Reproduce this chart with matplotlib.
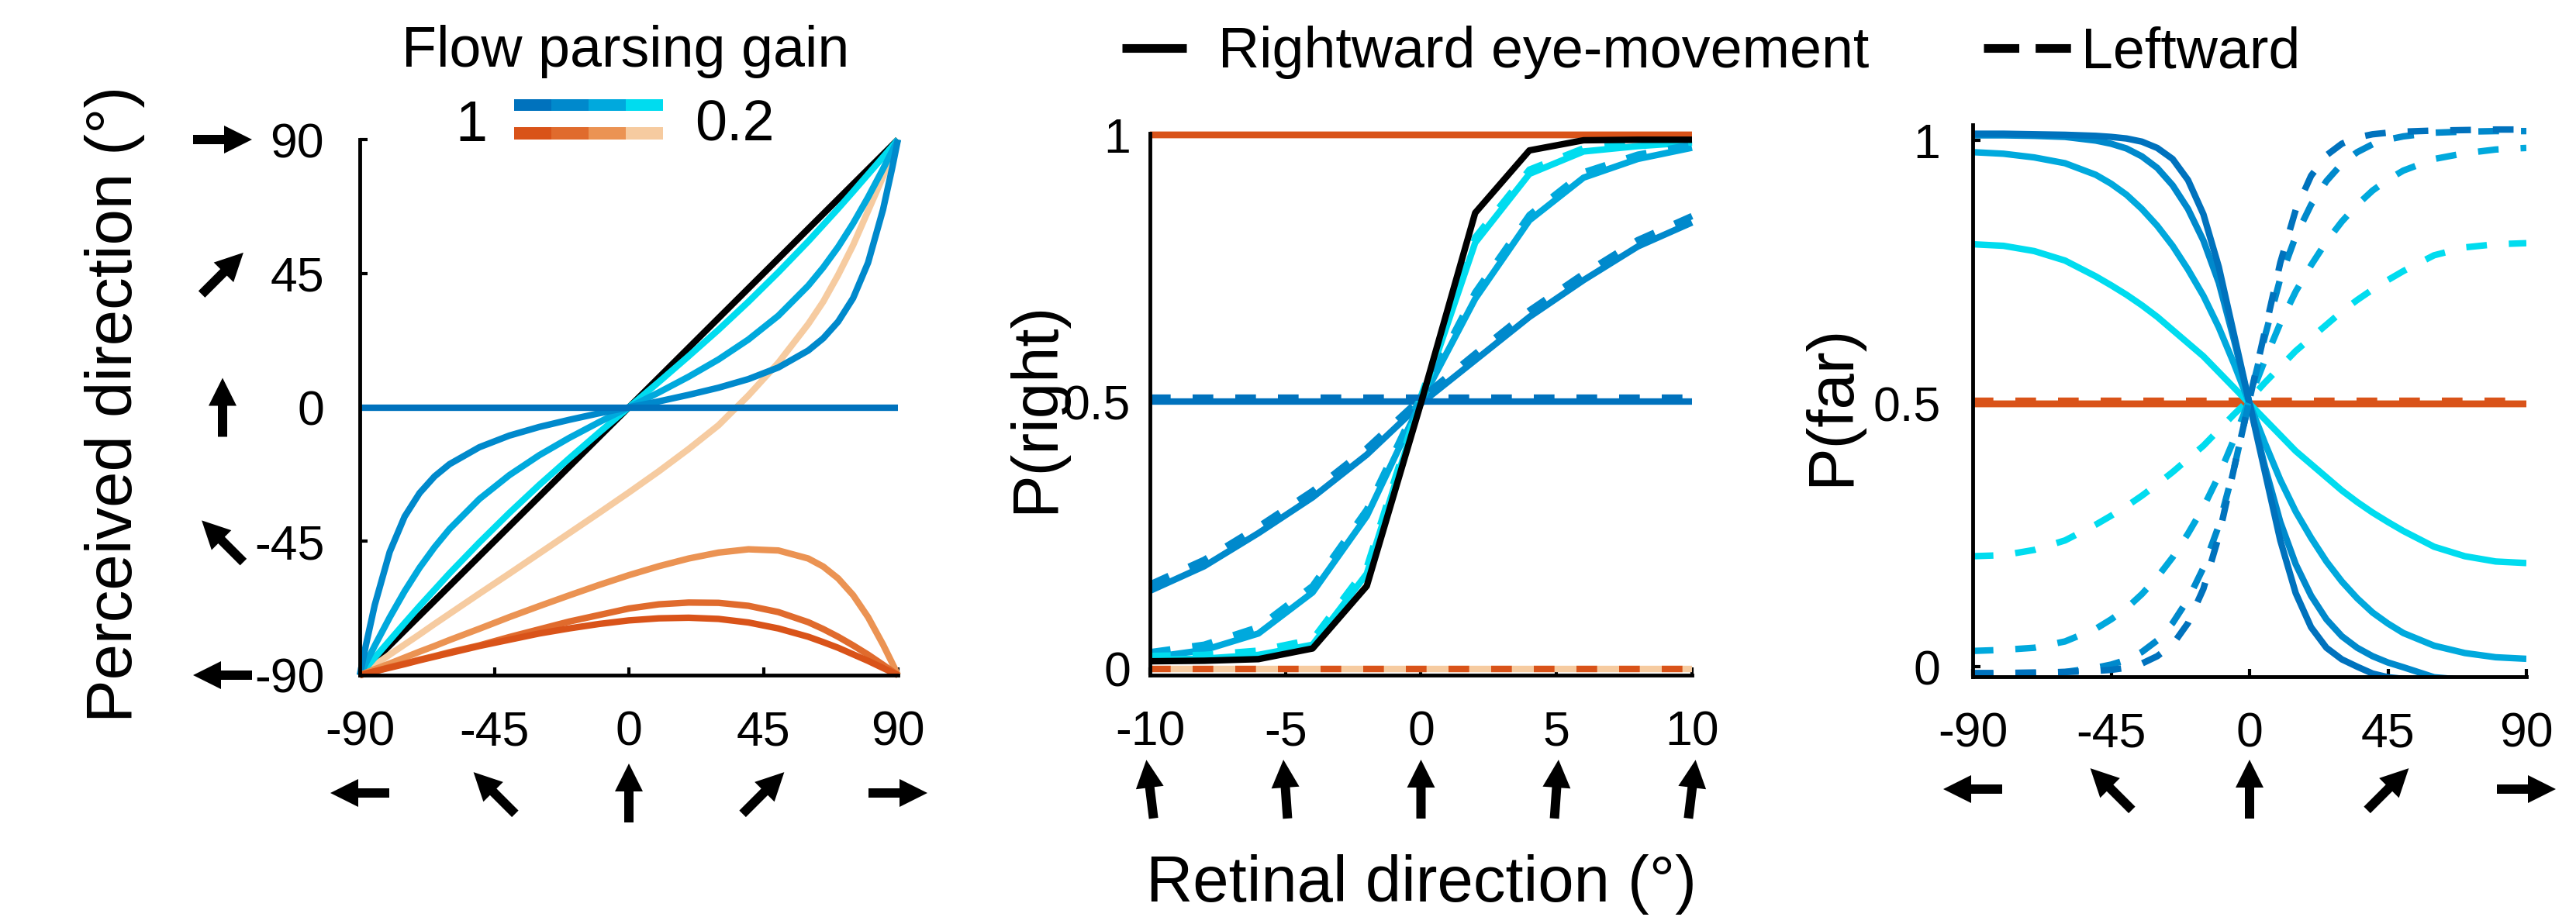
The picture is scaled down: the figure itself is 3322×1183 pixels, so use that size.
import numpy as np
import matplotlib
matplotlib.use('Agg')
import matplotlib.pyplot as plt
from matplotlib.patches import Polygon, Rectangle
from matplotlib.lines import Line2D
from matplotlib.transforms import IdentityTransform

plt.rcParams['font.family'] = ['Liberation Sans', 'DejaVu Sans']
plt.rcParams['axes.unicode_minus'] = False

W, H = 3323, 1183

# colours: gain 1 -> 0.2
blues = ['#0072BD', '#0089CC', '#00A9DD', '#00DCEF']
oranges = ['#D95319', '#E06B2D', '#EB9353', '#F6CBA0']

# ---- left panel: perceived vs retinal direction ----
dir_ticks = [-90, -45, 0, 45, 90]
dir_x = [-90, -88, -85, -80, -75, -70, -65, -60, -50, -40, -30, -20, -10, 0,
         10, 20, 30, 40, 50, 60, 65, 70, 75, 80, 85, 88, 90]
ideal_x = [-90, 90]
ideal_y = [-90, 90]
flat_x = [-90, 90]
flat_y = [0, 0]
blue2_y = [-90, -80.1, -66.4, -48.6, -36.7, -28.8, -23.2, -19.1, -13.4, -9.5, -6.6, -4.2, -2.0, 0,
           2.0, 4.2, 6.6, 9.5, 13.4, 19.1, 23.2, 28.8, 36.7, 48.6, 66.4, 80.1, 90]
blue3_y = [-90, -86.0, -80.1, -70.6, -61.8, -53.9, -47.0, -40.9, -30.8, -22.8, -16.1, -10.3, -5.0, 0,
           5.0, 10.3, 16.1, 22.8, 30.8, 40.9, 47.0, 53.9, 61.8, 70.6, 80.1, 86.0, 90]
blue4_y = [-90, -87.6, -84.1, -78.3, -72.5, -66.8, -61.3, -55.8, -45.4, -35.5, -26.1, -17.2, -8.5, 0,
           8.5, 17.2, 26.1, 35.5, 45.4, 55.8, 61.3, 66.8, 72.5, 78.3, 84.1, 87.6, 90]
peach_y = [-90, -88.6, -86.6, -83.1, -79.7, -76.3, -72.8, -69.4, -62.6, -55.9, -49.1, -42.3, -35.5, -28.6,
           -21.5, -14.0, -6.0, 4.0, 15.0, 28.0, 35.5, 44.5, 54.5, 66.0, 77.5, 85.0, 90]
orange3_y = [-90, -89.2, -88.0, -86.1, -84.1, -82.1, -80.2, -78.2, -74.4, -70.5, -66.8, -63.2, -59.7, -56.4,
             -53.4, -50.8, -48.8, -47.7, -48.1, -50.8, -53.5, -57.5, -63.1, -70.5, -79.7, -85.8, -90]
orange2_y = [-90, -89.5, -88.7, -87.3, -86.1, -84.8, -83.6, -82.3, -80.0, -77.2, -74.6, -72.0, -69.8, -67.6,
             -66.2, -65.6, -65.7, -66.7, -68.8, -72.2, -74.5, -77.1, -80.0, -83.1, -86.5, -88.6, -90]
orange1_y = [-90, -89.5, -88.7, -87.5, -86.3, -85.0, -83.8, -82.6, -80.2, -78.1, -76.0, -74.3, -72.8, -71.6,
             -70.9, -70.7, -71.1, -72.3, -74.3, -77.1, -78.9, -80.8, -83.0, -85.2, -87.6, -89.0, -90]

# ---- middle panel: P(right) vs retinal direction ----
ret_ticks = [-10, -5, 0, 5, 10]
ret_tilt = [-7, -4, 0, 4, 7]
ret_x = [-10, -8, -6, -4, -2, 0, 2, 4, 6, 8, 10]
pr_black = [0.014, 0.015, 0.018, 0.038, 0.155, 0.498, 0.854, 0.971, 0.990, 0.991, 0.991]
pr_b4 = [0.017, 0.019, 0.026, 0.045, 0.178, 0.500, 0.798, 0.927, 0.969, 0.979, 0.986]
pr_b4_left = [0.024, 0.026, 0.034, 0.055, 0.190, 0.510, 0.808, 0.935, 0.975, 0.984, 0.990]
pr_b3 = [0.021, 0.035, 0.066, 0.143, 0.286, 0.500, 0.693, 0.840, 0.920, 0.955, 0.976]
pr_b3_left = [0.031, 0.045, 0.078, 0.155, 0.298, 0.510, 0.705, 0.850, 0.930, 0.963, 0.982]
pr_b2 = [0.146, 0.192, 0.254, 0.321, 0.401, 0.497, 0.578, 0.659, 0.728, 0.791, 0.836]
pr_b2_left = [0.158, 0.204, 0.266, 0.333, 0.413, 0.507, 0.590, 0.671, 0.740, 0.803, 0.848]
pr_flat_x = [-10, 10]
pr_b1 = [0.5, 0.5]
pr_b1_left = [0.508, 0.508]
pr_orange = [1.0, 1.0]
pr_orange_left = [0.0, 0.0]

# ---- right panel: P(far) vs direction ----
far_x = [-90, -80, -70, -60, -50, -45, -40, -35, -30, -25, -20, -15, -10, -5, 0,
         5, 10, 15, 20, 25, 30, 35, 40, 45, 50, 60, 70, 80, 90]
pf_b1 = [1.013, 1.013, 1.012, 1.011, 1.009, 1.007, 1.004, 0.998, 0.986, 0.965, 0.925, 0.86, 0.76, 0.63, 0.5,
         0.37, 0.24, 0.14, 0.075, 0.036, 0.014, 0.0, -0.013, -0.02, -0.023, -0.026, -0.027, -0.028, -0.028]
pf_b2 = [1.01, 1.01, 1.009, 1.007, 1.0, 0.994, 0.985, 0.97, 0.948, 0.915, 0.87, 0.81, 0.73, 0.62, 0.5,
         0.38, 0.275, 0.195, 0.135, 0.09, 0.058, 0.036, 0.02, 0.008, -0.001, -0.02, -0.025, -0.027, -0.028]
pf_b3 = [0.978, 0.975, 0.968, 0.957, 0.935, 0.918, 0.897, 0.87, 0.838, 0.8, 0.755, 0.705, 0.645, 0.575, 0.5,
         0.425, 0.355, 0.295, 0.245, 0.2, 0.162, 0.13, 0.103, 0.082, 0.064, 0.04, 0.026, 0.018, 0.015]
pf_b4 = [0.803, 0.8, 0.79, 0.772, 0.742, 0.725, 0.707, 0.687, 0.665, 0.64, 0.615, 0.59, 0.56, 0.53, 0.5,
         0.47, 0.44, 0.41, 0.385, 0.36, 0.335, 0.313, 0.293, 0.275, 0.258, 0.228, 0.21, 0.2, 0.197]
pf_b1_left = [-0.012, -0.012, -0.011, -0.01, -0.008, -0.006, -0.002, 0.006, 0.02, 0.042, 0.083, 0.148, 0.248, 0.378, 0.508,
              0.638, 0.768, 0.868, 0.933, 0.972, 0.994, 1.006, 1.012, 1.015, 1.017, 1.019, 1.02, 1.021, 1.021]
pf_b2_left = [-0.014, -0.013, -0.012, -0.01, -0.002, 0.004, 0.013, 0.028, 0.05, 0.083, 0.128, 0.188, 0.268, 0.378, 0.508,
              0.628, 0.738, 0.818, 0.878, 0.923, 0.956, 0.978, 0.993, 1.002, 1.008, 1.015, 1.017, 1.018, 1.018]
pf_b3_left = [0.03, 0.032, 0.036, 0.048, 0.072, 0.09, 0.111, 0.138, 0.17, 0.208, 0.253, 0.303, 0.363, 0.433, 0.508,
              0.583, 0.653, 0.713, 0.763, 0.808, 0.846, 0.878, 0.905, 0.926, 0.943, 0.965, 0.976, 0.983, 0.986]
pf_b4_left = [0.21, 0.212, 0.222, 0.24, 0.27, 0.287, 0.305, 0.325, 0.347, 0.37, 0.395, 0.42, 0.45, 0.48, 0.508,
              0.54, 0.57, 0.6, 0.625, 0.65, 0.675, 0.697, 0.717, 0.735, 0.752, 0.782, 0.797, 0.803, 0.805]
pf_flat_x = [-90, 90]
pf_orange = [0.5, 0.5]
pf_orange_left = [0.505, 0.505]

LW = 6
DASH = (3.2, 3.4)

fig = plt.figure(figsize=(W / 100, H / 100), dpi=100)


def add_axes_px(x0, y0, x1, y1):
    return fig.add_axes([x0 / W, 1 - y1 / H, (x1 - x0) / W, (y1 - y0) / H])


def style(ax, xpad, ypad):
    for s in ['top', 'right']:
        ax.spines[s].set_visible(False)
    for s in ['left', 'bottom']:
        ax.spines[s].set_linewidth(3.5)
    ax.tick_params(direction='in', length=7, width=3, labelsize=45)
    ax.tick_params(axis='x', pad=xpad)
    ax.tick_params(axis='y', pad=ypad)


def draw_arrow(cx, cy, ang, L=76, hl=36, hw=36, sw=12):
    # arrow centred on (cx, cy) in pixels, ang in degrees clockwise from "up"
    a = np.deg2rad(ang)
    pts = [(0, L / 2), (hw / 2, L / 2 - hl), (sw / 2, L / 2 - hl), (sw / 2, -L / 2),
           (-sw / 2, -L / 2), (-sw / 2, L / 2 - hl), (-hw / 2, L / 2 - hl)]
    verts = [(cx + x * np.cos(a) + y * np.sin(a), cy - x * np.sin(a) + y * np.cos(a)) for x, y in pts]
    fig.add_artist(Polygon(verts, closed=True, facecolor='black', edgecolor='none',
                           transform=IdentityTransform()))


# left panel
ax1 = add_axes_px(464, 180, 1158, 871)
kw = dict(lw=LW, clip_on=False, solid_capstyle='butt')
ax1.plot(ideal_x, ideal_y, color='black', **kw)
ax1.plot(dir_x, peach_y, color=oranges[3], **kw)
ax1.plot(dir_x, blue4_y, color=blues[3], **kw)
ax1.plot(dir_x, blue3_y, color=blues[2], **kw)
ax1.plot(dir_x, blue2_y, color=blues[1], **kw)
ax1.plot(flat_x, flat_y, color=blues[0], **kw)
ax1.plot(dir_x, orange3_y, color=oranges[2], **kw)
ax1.plot(dir_x, orange2_y, color=oranges[1], **kw)
ax1.plot(dir_x, orange1_y, color=oranges[0], **kw)
ax1.set_xlim(-90, 90)
ax1.set_ylim(-90, 90)
ax1.set_xticks(dir_ticks)
ax1.set_yticks(dir_ticks)
style(ax1, 32, 33)

# middle panel
ax2 = add_axes_px(1483, 172, 2182, 871)
kw = dict(lw=LW, clip_on=False, solid_capstyle='butt', dash_capstyle='butt')
for c in oranges[2::-1]:
    ax2.plot(pr_flat_x, pr_orange, color=c, **kw)
ax2.plot(pr_flat_x, pr_orange_left, color=oranges[3], **kw)
ax2.plot(pr_flat_x, pr_orange_left, color=oranges[0], dashes=DASH, **kw)
ax2.plot(ret_x, pr_b2, color=blues[1], **kw)
ax2.plot(ret_x, pr_b3, color=blues[2], **kw)
ax2.plot(ret_x, pr_b4, color=blues[3], **kw)
ax2.plot(pr_flat_x, pr_b1, color=blues[0], **kw)
ax2.plot(ret_x, pr_b2_left, color=blues[1], dashes=DASH, **kw)
ax2.plot(ret_x, pr_b3_left, color=blues[2], dashes=DASH, **kw)
ax2.plot(ret_x, pr_b4_left, color=blues[3], dashes=DASH, **kw)
ax2.plot(pr_flat_x, pr_b1_left, color=blues[0], dashes=DASH, **kw)
ax2.plot(ret_x, pr_black, color='black', **kw)
ax2.set_xlim(-10, 10)
ax2.set_ylim(-0.012, 1.003)
ax2.set_xticks(ret_ticks)
ax2.set_yticks([0, 0.5, 1])
ax2.set_yticklabels(['0', '0.5', '1'])
style(ax2, 32, 18)

# right panel
ax3 = add_axes_px(2544, 161, 3258, 873)
kw = dict(lw=LW, solid_capstyle='butt', dash_capstyle='butt')
for c in oranges[::-1]:
    ax3.plot(pf_flat_x, pf_orange, color=c, **kw)
ax3.plot(pf_flat_x, pf_orange_left, color=oranges[0], dashes=DASH, **kw)
ax3.plot(far_x, pf_b4, color=blues[3], **kw)
ax3.plot(far_x, pf_b3, color=blues[2], **kw)
ax3.plot(far_x, pf_b2, color=blues[1], **kw)
ax3.plot(far_x, pf_b1, color=blues[0], **kw)
ax3.plot(far_x, pf_b4_left, color=blues[3], dashes=DASH, **kw)
ax3.plot(far_x, pf_b3_left, color=blues[2], dashes=DASH, **kw)
ax3.plot(far_x, pf_b2_left, color=blues[1], dashes=DASH, **kw)
ax3.plot(far_x, pf_b1_left, color=blues[0], dashes=DASH, **kw)
ax3.set_xlim(-90, 90)
ax3.set_ylim(-0.019, 1.03)
ax3.set_xticks(dir_ticks)
ax3.set_yticks([0, 0.5, 1])
ax3.set_yticklabels(['0', '0.5', '1'])
style(ax3, 32, 30)

# direction arrows
for v in dir_ticks:
    draw_arrow(ax1.transData.transform((v, 0))[0], H - 1023, v)
    draw_arrow(ax3.transData.transform((v, 0))[0], H - 1018, v)
    draw_arrow(287, ax1.transData.transform((0, v))[1], v)
for v, t in zip(ret_ticks, ret_tilt):
    draw_arrow(ax2.transData.transform((v, 0))[0], H - 1018, t)

# axis labels
fig.text(148 / W, 1 - 521 / H, 'Perceived direction (°)', rotation=90,
         ha='center', va='center', fontsize=60)
fig.text(1336 / W, 1 - 525 / H, 'P(right)', rotation=90, ha='center', va='center', fontsize=60)
fig.text(2362 / W, 1 - 523 / H, 'P(far)', rotation=90, ha='center', va='center', fontsize=60)
fig.text(1833 / W, 1 - 1163 / H, 'Retinal direction (°)', ha='center', va='baseline', fontsize=60)

# gain colour key
fig.text(807 / W, 1 - 86 / H, 'Flow parsing gain', ha='center', va='baseline', fontsize=53)
fig.text(608 / W, 1 - 182 / H, '1', ha='center', va='baseline', fontsize=53)
fig.text(947 / W, 1 - 182 / H, '0.2', ha='center', va='baseline', fontsize=53)
for i in range(4):
    x0 = 663 + i * 48
    fig.add_artist(Rectangle((x0 / W, 1 - 143 / H), 48 / W, 15 / H, facecolor=blues[i],
                             edgecolor='none', transform=fig.transFigure))
    fig.add_artist(Rectangle((x0 / W, 1 - 180 / H), 48 / W, 16 / H, facecolor=oranges[i],
                             edgecolor='none', transform=fig.transFigure))

# eye-movement key
fig.add_artist(Line2D([1447 / W, 1530 / W], [1 - 62 / H] * 2, color='black', lw=8,
                      solid_capstyle='butt', transform=fig.transFigure))
fig.text(1571 / W, 1 - 87 / H, 'Rightward eye-movement', ha='left', va='baseline', fontsize=53)
fig.add_artist(Line2D([2558 / W, 2671 / W], [1 - 62 / H] * 2, color='black', lw=8,
                      dashes=(4.1, 1.9), dash_capstyle='butt', transform=fig.transFigure))
fig.text(2684 / W, 1 - 87 / H, 'Leftward', ha='left', va='baseline', fontsize=53)

fig.savefig('out.png', dpi=100, facecolor='white')
